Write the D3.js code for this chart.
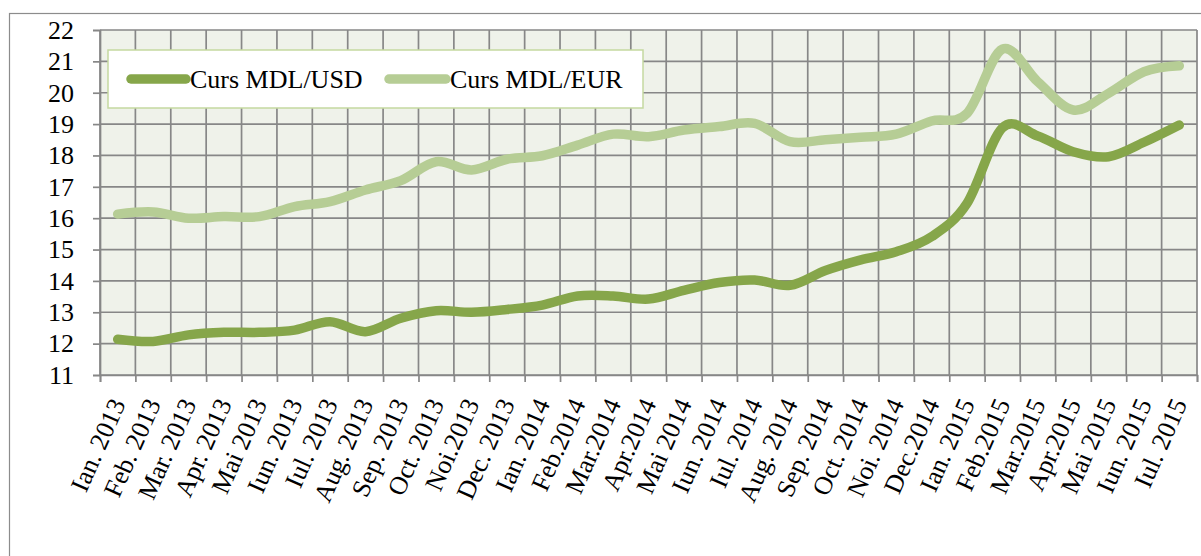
<!DOCTYPE html>
<html>
<head>
<meta charset="utf-8">
<script src="https://cdn.jsdelivr.net/npm/d3@7"></script>
<style>
  html, body { margin: 0; padding: 0; background: #ffffff; }
  svg { display: block; }
</style>
</head>
<body>
<script>
const months = ["Ian. 2013","Feb. 2013","Mar. 2013","Apr. 2013","Mai 2013","Iun. 2013","Iul. 2013","Aug. 2013","Sep. 2013","Oct. 2013","Noi.2013","Dec. 2013","Ian. 2014","Feb.2014","Mar.2014","Apr.2014","Mai 2014","Iun. 2014","Iul. 2014","Aug. 2014","Sep. 2014","Oct. 2014","Noi. 2014","Dec.2014","Ian. 2015","Feb.2015","Mar.2015","Apr.2015","Mai 2015","Iun. 2015","Iul. 2015"];
const usd = [12.14,12.07,12.28,12.36,12.36,12.43,12.70,12.38,12.81,13.05,13.00,13.09,13.23,13.52,13.52,13.42,13.70,13.95,14.03,13.86,14.33,14.67,14.93,15.41,16.47,18.88,18.62,18.12,17.96,18.42,18.97];
const eur = [16.13,16.20,16.00,16.05,16.05,16.37,16.53,16.90,17.20,17.80,17.54,17.88,17.99,18.33,18.68,18.60,18.81,18.92,19.02,18.44,18.50,18.58,18.68,19.10,19.34,21.39,20.35,19.45,19.98,20.67,20.86];
const yTicks = [11,12,13,14,15,16,17,18,19,20,21,22];
const seriesNames = ["Curs MDL/USD","Curs MDL/EUR"];

(function () {
const W = 1201, H = 556;
const FONT = "'Liberation Serif', 'Times New Roman', serif";
const COLORS = ["#86a64a", "#b6cd95"];
const GRID = "#878787";

const svg = d3.select("body").append("svg").attr("width", W).attr("height", H);

// chart area border
svg.append("rect").attr("x", 9.5).attr("y", 13.5).attr("width", 1300).attr("height", 700)
  .attr("fill", "#fff").attr("stroke", "#8c8c8c").attr("stroke-width", 1.2);

const pL = 100, pR = 1197, pT = 30, pB = 375;

const x = d3.scaleBand().domain(months).range([pL, pR]).padding(0);
const xb = d3.scaleLinear().domain([0, months.length]).range([pL, pR]);
const y = d3.scaleLinear().domain([11, 22]).range([pB, pT]);

// plot background
svg.append("rect").attr("x", pL).attr("y", pT).attr("width", pR - pL).attr("height", pB - pT)
  .attr("fill", "#eff2ea");

// gridlines
const g = svg.append("g");
g.selectAll("line.v").data(d3.range(months.length + 1)).join("line").attr("class", "v")
  .attr("x1", d => xb(d)).attr("x2", d => xb(d)).attr("y1", pT).attr("y2", pB)
  .attr("stroke", GRID).attr("stroke-width", 1.7);
g.selectAll("line.h").data(yTicks).join("line").attr("class", "h")
  .attr("x1", pL).attr("x2", pR).attr("y1", d => y(d)).attr("y2", d => y(d))
  .attr("stroke", GRID).attr("stroke-width", 1.7);

// left axis
const ya = svg.append("g").attr("transform", `translate(${pL},0)`)
  .call(d3.axisLeft(y).tickValues(yTicks).tickSize(7).tickPadding(19).tickFormat(d3.format("d")));
ya.select(".domain").attr("stroke", GRID).attr("stroke-width", 1.7);
ya.selectAll(".tick line").attr("stroke", GRID).attr("stroke-width", 1.7);
ya.selectAll(".tick text").attr("font-family", FONT).attr("font-size", 26).attr("fill", "#000");

// bottom axis (ticks at category boundaries)
const xa = svg.append("g").attr("transform", `translate(0,${pB})`)
  .call(d3.axisBottom(xb).tickValues(d3.range(months.length + 1)).tickSize(7).tickFormat(""));
xa.select(".domain").attr("stroke", GRID).attr("stroke-width", 1.7);
xa.selectAll(".tick line").attr("stroke", GRID).attr("stroke-width", 1.7);

// category labels
svg.append("g").selectAll("text").data(months).join("text")
  .attr("transform", d => `translate(${x(d) + x.bandwidth() / 2},400) rotate(-66)`)
  .attr("text-anchor", "end").attr("dy", "0.35em")
  .attr("font-family", FONT).attr("font-size", 26).attr("fill", "#000")
  .text(d => d);

// lines
const line = d3.line()
  .x((d, i) => x(months[i]) + x.bandwidth() / 2)
  .y(d => y(d))
  .curve(d3.curveCardinal.tension(0));

[usd, eur].forEach((s, k) => {
  svg.append("path").datum(s).attr("d", line)
    .attr("fill", "none").attr("stroke", COLORS[k]).attr("stroke-width", 9.5)
    .attr("stroke-linecap", "round").attr("stroke-linejoin", "round");
});

// legend
const lg = svg.append("g");
lg.append("rect").attr("x", 108).attr("y", 50).attr("width", 535).attr("height", 58)
  .attr("fill", "#fff").attr("stroke", "#c5d9a0").attr("stroke-width", 1.5);
const legendItems = [{x1: 131, x2: 186, tx: 190}, {x1: 389, x2: 446, tx: 450}];
seriesNames.forEach((name, k) => {
  const it = legendItems[k];
  lg.append("line").attr("x1", it.x1).attr("x2", it.x2).attr("y1", 79).attr("y2", 79)
    .attr("stroke", COLORS[k]).attr("stroke-width", 9.5).attr("stroke-linecap", "round");
  lg.append("text").attr("x", it.tx).attr("y", 79).attr("dy", "0.35em")
    .attr("font-family", FONT).attr("font-size", 26).attr("fill", "#000").text(name);
});
})();
</script>
</body>
</html>
